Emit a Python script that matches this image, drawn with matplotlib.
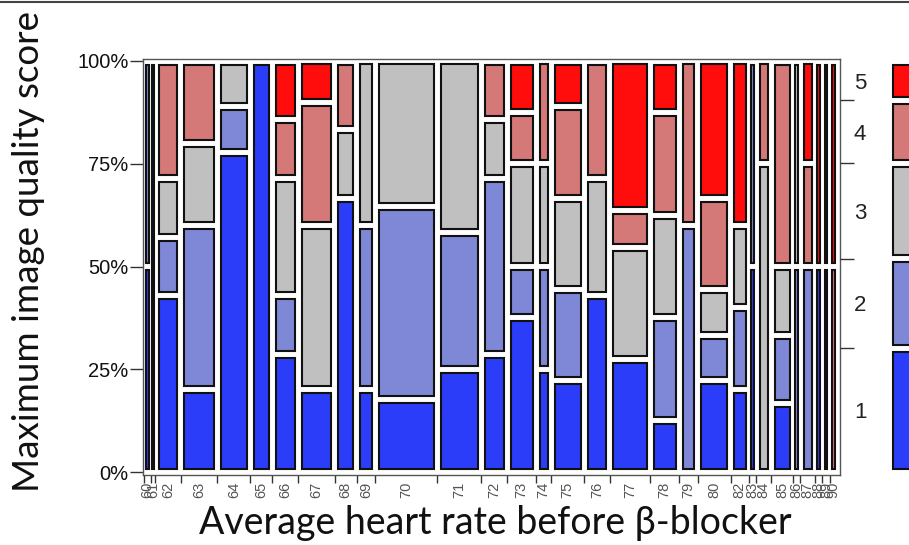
import numpy as np
import matplotlib.pyplot as plt
from matplotlib.patches import Rectangle
from matplotlib.lines import Line2D

# Mosaic: number of patients per heart rate and maximum image quality score
heart_rates = ['60', '61', '62', '63', '64', '65', '66', '67', '68', '69',
               '70', '71', '72', '73', '74', '75', '76', '77', '78', '79',
               '80', '82', '83', '84', '85', '86', '87', '88', '89', '90']
score_1 = [1, 1, 3, 2, 7, 6, 2, 2, 4, 1, 3, 3, 2, 3, 1, 2, 3, 3, 1, 0, 2, 1, 1, 0, 1, 0, 0, 1, 1, 0]
score_2 = [1, 0, 1, 4, 1, 0, 1, 0, 0, 2, 8, 4, 3, 1, 1, 2, 0, 0, 2, 3, 1, 1, 1, 0, 1, 1, 2, 0, 0, 0]
score_3 = [0, 0, 1, 2, 1, 0, 2, 4, 1, 2, 6, 5, 1, 2, 1, 2, 2, 3, 2, 0, 1, 1, 0, 3, 1, 1, 0, 0, 0, 0]
score_4 = [0, 0, 2, 2, 0, 0, 1, 3, 1, 0, 0, 0, 1, 1, 1, 2, 2, 1, 2, 2, 2, 0, 0, 1, 3, 0, 1, 0, 0, 1]
score_5 = [0, 0, 0, 0, 0, 0, 1, 1, 0, 0, 0, 0, 0, 1, 0, 1, 0, 4, 1, 0, 3, 2, 0, 0, 0, 0, 1, 1, 1, 1]
score_labels = ['1', '2', '3', '4', '5']
colors = ['#2b3df8', '#7f88d6', '#c0c0c0', '#d47878', '#ff0c0c']

counts = np.array([score_1, score_2, score_3, score_4, score_5])  # (5, n_hr)
col_tot = counts.sum(axis=0)
N = col_tot.sum()
lefts = np.concatenate([[0], np.cumsum(col_tot)[:-1]])
centers = lefts + col_tot / 2

W, H = 909, 545
fig = plt.figure(figsize=(W / 100, H / 100), dpi=100)

# main axes frame in pixels
fx0, fx1, fy0, fy1 = 143, 840, 59, 475
ax = fig.add_axes([fx0 / W, 1 - fy1 / H, (fx1 - fx0) / W, (fy1 - fy0) / H])

# data span in pixels
ppu = (837 - 144) / N           # px per patient
ppy = 411.0                     # px for 100%
ax.set_xlim(-(144 - fx0) / ppu, N + (fx1 - 837) / ppu)
ax.set_ylim(-(fy1 - 472) / ppy, 1 + (61 - fy0) / ppy)

gap = 3.5   # half white gap, px
lw = 1.5

for j in range(len(heart_rates)):
    w = col_tot[j]
    ix = min(gap / ppu, 0.3 * w)
    bottom = 0.0
    for k in range(5):
        c = counts[k, j]
        if c == 0:
            continue
        h = c / w
        iy = min(gap / ppy, 0.3 * h)
        ax.add_patch(Rectangle((lefts[j] + ix, bottom + iy), w - 2 * ix, h - 2 * iy,
                               facecolor=colors[k], edgecolor='#111', linewidth=lw))
        bottom += h

for s in ax.spines.values():
    s.set_color('#555')
    s.set_linewidth(1.0)

# x axis: labels at column centres, ticks at column boundaries
ax.set_xticks(centers)
ax.set_xticklabels(heart_rates, rotation=90, fontsize=10.5, color='#555',
                   family='Liberation Sans')
ax.tick_params(axis='x', which='major', length=0, pad=5)
ax.set_xticks(lefts, minor=True)
ax.tick_params(axis='x', which='minor', length=6, width=1, color='#333')

# left y axis
ax.set_yticks([0, 0.25, 0.5, 0.75, 1.0])
ax.set_yticklabels(['0%', '25%', '50%', '75%', '100%'], fontsize=14.5,
                   color='#111', family='Liberation Sans')
ax.tick_params(axis='y', length=9.5, width=1, color='#333', pad=1)

# right axis: overall distribution of scores
tot = counts.sum(axis=1)
cum = np.cumsum(tot) / N
ax2 = ax.twinx()
ax2.set_ylim(ax.get_ylim())
ax2.set_yticks(cum[:-1])
ax2.set_yticklabels([])
ax2.tick_params(axis='y', which='major', length=10, width=1, color='#333')
mids = np.concatenate([[0], cum[:-1]]) + tot / N / 2
ax2.set_yticks(mids, minor=True)
ax2.set_yticklabels(score_labels, minor=True, fontsize=16, color='#222',
                    family='Liberation Sans')
ax2.tick_params(axis='y', which='minor', length=0, pad=10)
for s in ax2.spines.values():
    s.set_visible(False)

# "all" column, cut off at the right edge
ax3 = fig.add_axes([891 / W, 1 - fy1 / H, 40 / W, (fy1 - fy0) / H])
ax3.set_xlim(0, 1)
ax3.set_ylim(ax.get_ylim())
ax3.axis('off')
bottom = 0.0
for k in range(5):
    h = tot[k] / N
    iy = gap / ppy
    ax3.add_patch(Rectangle((0.06, bottom + iy), 0.9, h - 2 * iy,
                            facecolor=colors[k], edgecolor='#111', linewidth=lw))
    bottom += h

label_font = ['Lato', 'DejaVu Sans']
fig.text(29 / W, 1 - 252 / H, 'Maximum image quality score', rotation=90,
         ha='center', va='center', fontsize=26.5, family=label_font, color='#111')
fig.text(495 / W, 1 - 523 / H, 'Average heart rate before \u03b2-blocker',
         ha='center', va='center', fontsize=27, family=label_font, color='#111')

fig.add_artist(Line2D([0, 1], [1 - 1.5 / H] * 2, color='#444', linewidth=1.5))

fig.savefig('out.png', dpi=100)
